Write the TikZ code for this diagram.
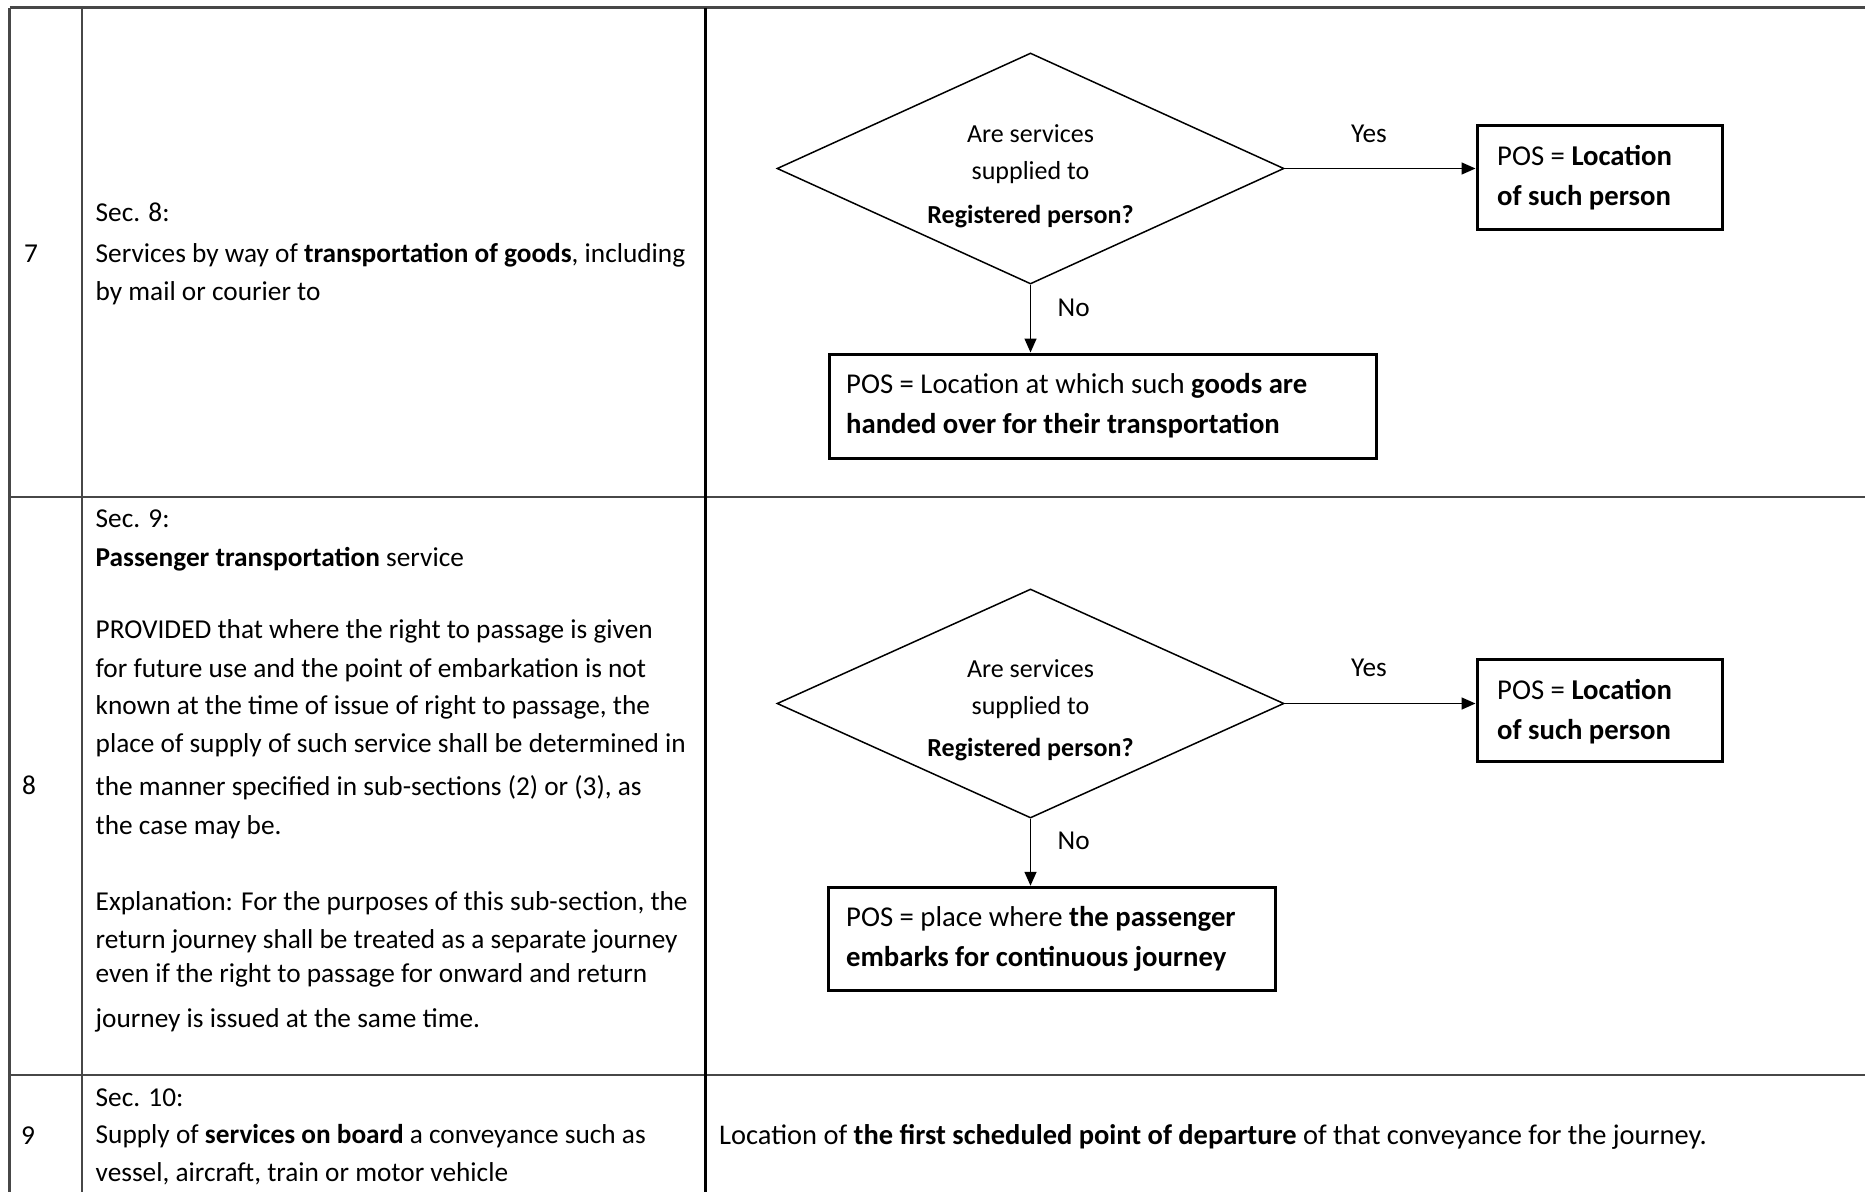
\documentclass[tikz,border=0pt]{standalone}
\usepackage{fontspec}
\setmainfont{Carlito}
\usetikzlibrary{shapes.geometric,arrows.meta}

\tikzset{
  rule/.style={line width=2.2pt, draw=black!72},
  heavyrule/.style={line width=3.6pt, draw=black},
  body/.style={anchor=base west, inner sep=0pt, font=\fontsize{27.3}{33}\selectfont},
  boxtext/.style={anchor=base west, inner sep=0pt, font=\fontsize{28.7}{34}\selectfont},
  widetext/.style={anchor=base west, inner sep=0pt, font=\fontsize{28.45}{34}\selectfont},
  qtext/.style={anchor=base, inner sep=0pt, font=\fontsize{26}{31}\selectfont},
  answer/.style={anchor=base, inner sep=0pt, font=\fontsize{27.3}{33}\selectfont},
  decision/.style={diamond, draw=black, line width=1.5pt, inner sep=0pt, minimum width=507pt},
  outcome/.style={rectangle, draw=black, line width=3pt, inner sep=0pt},
  flow/.style={line width=1.5pt, draw=black, -{Triangle[length=14pt,width=12pt]}},
}

\begin{document}
\begin{tikzpicture}[x=1pt,y=-1pt]
\useasboundingbox (0,0) rectangle (1865,1192);
\fill[white] (0,0) rectangle (1865,1192);

% ---- table grid ----
\coordinate (tl) at (9.5,7.5);
\coordinate (tr) at (1865,7.5);
\coordinate (bl) at (9.5,1192);
\coordinate (c1t) at (82,7.5);
\coordinate (c1b) at (82,1192);
\coordinate (c2t) at (705.5,7.5);
\coordinate (c2b) at (705.5,1192);
\coordinate (r1l) at (9.5,497);
\coordinate (r1r) at (1865,497);
\coordinate (r2l) at (9.5,1075);
\coordinate (r2r) at (1865,1075);
\draw[rule] (tl) -- (tr);
\draw[rule] (r1l) -- (r1r);
\draw[rule] (r2l) -- (r2r);
\draw[rule] (tl) -- (bl);
\draw[rule] (c1t) -- (c1b);
\draw[heavyrule] (c2t) -- (c2b);

% ---- row 7 ----
\node[body] (n7) at (24,262) {7};
\node[body] (s8a) at (95.5,221) {Sec. 8:};
\node[body] (s8b) at (95.5,262) {Services by way of \textbf{transportation of goods}, including};
\node[body] (s8c) at (95.5,300) {by mail or courier to};

\node[decision, minimum height=231pt] (d1) at (1030.5,168.5) {};
\node[qtext] (d1a) at (1030.5,142.5) {Are services};
\node[qtext] (d1b) at (1030.5,179) {supplied to};
\node[qtext] (d1c) at (1030.5,223.5) {\textbf{Registered person?}};

\node[outcome, minimum width=245pt, minimum height=104pt] (b1) at (1599.5,177) {};
\node[boxtext] (b1a) at (1497,165) {POS = \textbf{Location}};
\node[boxtext] (b1b) at (1497,205) {\textbf{of such person}};

\node[outcome, minimum width=547pt, minimum height=104pt] (b2) at (1102.5,406) {};
\node[boxtext] (b2a) at (846,393) {POS = Location at which such \textbf{goods are}};
\node[boxtext] (b2b) at (846,433) {\textbf{handed over for their transportation}};

\draw[flow] (d1.east) -- (b1.west |- d1.east);
\draw[flow] (d1.south) -- (d1.south |- b2.north);
\node[answer] (y1) at (1369,142) {Yes};
\node[body] (no1) at (1057.5,316) {No};

% ---- row 8 ----
\node[body] (n8) at (22,794) {8};
\node[body] (s9a) at (95.5,527.5) {Sec. 9:};
\node[body] (s9b) at (95.5,566.5) {\textbf{Passenger transportation} service};
\node[body] (s9c) at (95.5,638.5) {PROVIDED that where the right to passage is given};
\node[body] (s9d) at (95.5,677.5) {for future use and the point of embarkation is not};
\node[body] (s9e) at (95.5,714) {known at the time of issue of right to passage, the};
\node[body] (s9f) at (95.5,752.5) {place of supply of such service shall be determined in};
\node[body] (s9g) at (95.5,795) {the manner specified in sub-sections (2) or (3), as};
\node[body] (s9h) at (95.5,834) {the case may be.};
\node[body] (s9i) at (95.5,910.5) {Explanation: For the purposes of this sub-section, the};
\node[body] (s9j) at (95.5,948) {return journey shall be treated as a separate journey};
\node[body] (s9k) at (95.5,982) {even if the right to passage for onward and return};
\node[body] (s9l) at (95.5,1027) {journey is issued at the same time.};

\node[decision, minimum height=229pt] (d2) at (1030.5,703.5) {};
\node[qtext] (d2a) at (1030.5,677) {Are services};
\node[qtext] (d2b) at (1030.5,714) {supplied to};
\node[qtext] (d2c) at (1030.5,756.5) {\textbf{Registered person?}};

\node[outcome, minimum width=245pt, minimum height=102pt] (b3) at (1599.5,710.5) {};
\node[boxtext] (b3a) at (1497,699.5) {POS = \textbf{Location}};
\node[boxtext] (b3b) at (1497,739.5) {\textbf{of such person}};

\node[outcome, minimum width=447pt, minimum height=103.5pt] (b4) at (1052,939) {};
\node[boxtext] (b4a) at (846,926.5) {POS = place where \textbf{the passenger}};
\node[boxtext] (b4b) at (846,966) {\textbf{embarks for continuous journey}};

\draw[flow] (d2.east) -- (b3.west |- d2.east);
\draw[flow] (d2.south) -- (d2.south |- b4.north);
\node[answer] (y2) at (1369,676) {Yes};
\node[body] (no2) at (1057.5,849.5) {No};

% ---- row 9 ----
\node[body] (n9) at (21,1144) {9};
\node[body] (s10a) at (95.5,1106) {Sec. 10:};
\node[body] (s10b) at (95.5,1143.5) {Supply of \textbf{services on board} a conveyance such as};
\node[body] (s10c) at (95.5,1181) {vessel, aircraft, train or motor vehicle};
\node[widetext] (r9) at (719,1144.5) {Location of \textbf{the first scheduled point of departure} of that conveyance for the journey.};
\end{tikzpicture}
\end{document}
